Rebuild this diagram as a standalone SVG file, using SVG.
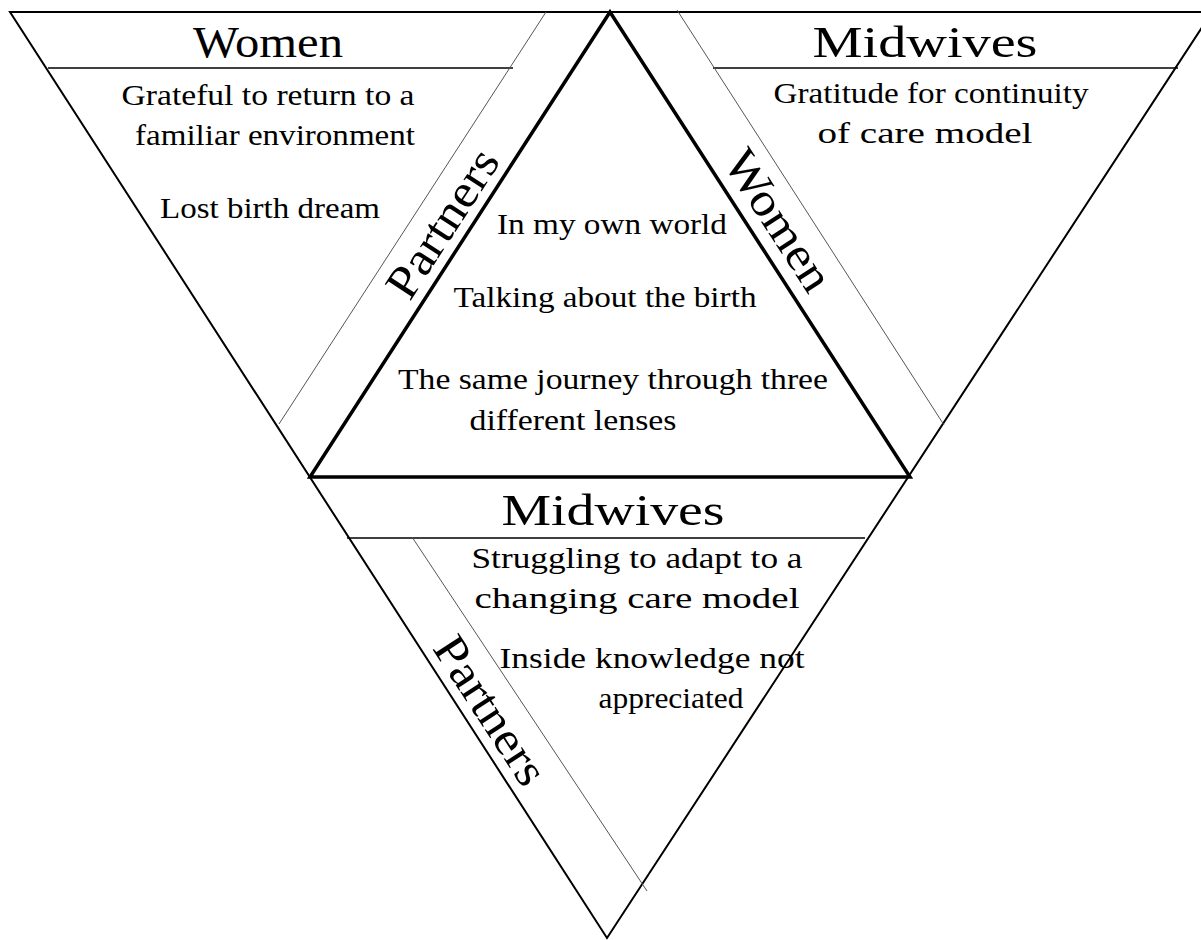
<svg xmlns="http://www.w3.org/2000/svg" width="1201" height="940" viewBox="0 0 1201 940">
<style>
.edge{fill:none;stroke:#000;stroke-width:2}
.inner{fill:none;stroke:#000;stroke-width:3.5;stroke-linejoin:miter}
.hdr{stroke:#000;stroke-width:1.5}
.thin{stroke:#555;stroke-width:1}
text{font-family:"Liberation Serif","Times New Roman","DejaVu Serif",serif;fill:#000}
.h{font-size:45px;text-anchor:middle}
.b{font-size:29px;text-anchor:middle}
.r{font-size:47px;text-anchor:middle}
</style>
<rect width="1201" height="940" fill="#fff"/>
<g id="connectors">
<polygon class="edge" points="10,12 1212,12 607,938"/>
<polygon class="inner" points="610,12 310,477 910,477"/>
<line class="hdr" x1="48" y1="68" x2="513" y2="68"/>
<line class="hdr" x1="713" y1="68" x2="1178" y2="68"/>
<line class="hdr" x1="347" y1="538" x2="865" y2="538"/>
<line class="thin" x1="546" y1="12" x2="279" y2="424"/>
<line class="thin" x1="677" y1="10" x2="944" y2="425"/>
<line class="thin" x1="412" y1="537" x2="647" y2="891"/>
</g>
<g id="women-left">
<text class="h" x="268" y="57" textLength="150" lengthAdjust="spacingAndGlyphs">Women</text>
<text class="b" x="268" y="105" textLength="293" lengthAdjust="spacingAndGlyphs">Grateful to return to a</text>
<text class="b" x="275" y="145" textLength="280" lengthAdjust="spacingAndGlyphs">familiar environment</text>
<text class="b" x="270" y="218" textLength="220" lengthAdjust="spacingAndGlyphs">Lost birth dream</text>
</g>
<g id="midwives-right">
<text class="h" x="925" y="57" textLength="225" lengthAdjust="spacingAndGlyphs">Midwives</text>
<text class="b" x="931" y="103" textLength="315" lengthAdjust="spacingAndGlyphs">Gratitude for continuity</text>
<text class="b" x="925" y="143" textLength="215" lengthAdjust="spacingAndGlyphs">of care model</text>
</g>
<g id="partners-left">
<text class="r" transform="translate(442,223) rotate(-57)" y="16" textLength="168" lengthAdjust="spacingAndGlyphs">Partners</text>
</g>
<g id="women-right">
<text class="r" transform="translate(779,220) rotate(57)" y="16" textLength="159" lengthAdjust="spacingAndGlyphs">Women</text>
</g>
<g id="center">
<text class="b" x="612" y="234" textLength="230" lengthAdjust="spacingAndGlyphs">In my own world</text>
<text class="b" x="605" y="307" textLength="303" lengthAdjust="spacingAndGlyphs">Talking about the birth</text>
<text class="b" x="613" y="389" textLength="430" lengthAdjust="spacingAndGlyphs">The same journey through three</text>
<text class="b" x="573" y="430" textLength="207" lengthAdjust="spacingAndGlyphs">different lenses</text>
</g>
<g id="midwives-bottom">
<text class="h" x="613" y="525" textLength="223" lengthAdjust="spacingAndGlyphs">Midwives</text>
<text class="b" x="637" y="568" textLength="331" lengthAdjust="spacingAndGlyphs">Struggling to adapt to a</text>
<text class="b" x="637" y="608" textLength="325" lengthAdjust="spacingAndGlyphs">changing care model</text>
<text class="b" x="652" y="668" textLength="305" lengthAdjust="spacingAndGlyphs">Inside knowledge not</text>
<text class="b" x="671" y="708" textLength="145" lengthAdjust="spacingAndGlyphs">appreciated</text>
</g>
<g id="partners-bottom">
<text class="r" transform="translate(491,710) rotate(57)" y="16" textLength="168" lengthAdjust="spacingAndGlyphs">Partners</text>
</g>
</svg>
